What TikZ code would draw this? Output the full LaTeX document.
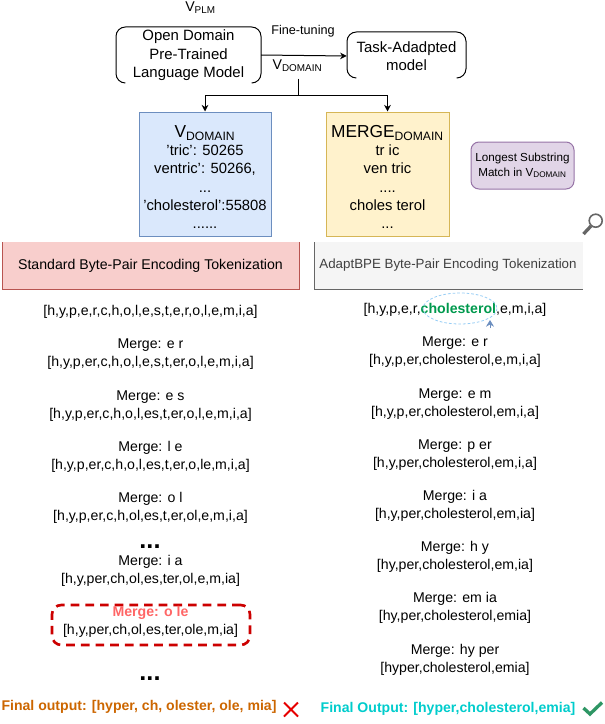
\documentclass[tikz,border=0pt]{standalone}
\usepackage{fontspec}
\setmainfont{Liberation Sans}
\usetikzlibrary{arrows,positioning}
\usetikzlibrary{arrows.meta}
\definecolor{blueFill}{RGB}{218,232,252}
\definecolor{blueLine}{RGB}{108,142,191}
\definecolor{yellowFill}{RGB}{255,242,204}
\definecolor{yellowLine}{RGB}{214,182,86}
\definecolor{purpleFill}{RGB}{225,213,231}
\definecolor{purpleLine}{RGB}{150,115,166}
\definecolor{redFill}{RGB}{248,206,204}
\definecolor{redLine}{RGB}{184,84,80}
\definecolor{grayFill}{RGB}{245,245,245}
\definecolor{grayLine}{RGB}{102,102,102}
\newcommand{\boxtitle}[1]{{\fontsize{13}{13.6}\selectfont #1}}
\tikzset{
	textline/.style={inner sep=0pt,align=center,font=\fontsize{10.6}{13.5}\selectfont},
	boxtext/.style={inner sep=0pt,align=center,font=\fontsize{11.2}{13.8}\selectfont},
	colorbox/.style={line width=0.75,inner sep=0pt,align=center,font=\fontsize{11.1}{13.6}\selectfont},
	dotsline/.style={inner sep=0pt,font=\bfseries\fontsize{19}{20}\selectfont},
	finalline/.style={inner sep=0pt,font=\bfseries\fontsize{10.55}{13}\selectfont},
	connector/.style={line width=0.75,-{Stealth[length=5,width=5]}},
}
\begin{document}
\begin{tikzpicture}[x=0.75pt,y=0.75pt,yscale=-1,xscale=1]
	\useasboundingbox (0,0) rectangle (604,724);

	%Shape: Model boxes
	\draw (188.5,55.5) node (openModel) [minimum width=108.75pt,minimum height=42pt,boxtext] {Open Domain\\Pre-Trained\\Language Model};
	\draw (406.5,56) node (taskModel) [minimum width=89.25pt,minimum height=34.5pt,boxtext] {Task-Adadpted\\model};
	\draw [rounded corners=7,line width=0.75] (124,83) -- (116,83) -- (116,27) -- (261,27) -- (261,83) -- (253,83);
	\draw [rounded corners=7,line width=0.75] (355,78) -- (347,78) -- (347,32) -- (466,32) -- (466,78) -- (458,78);
	% Text Node
	\draw (200.5,8) node (vPlm) [textline] {V\textsubscript{PLM}};
	\draw (303,31) node (fineTuning) [textline,font=\fontsize{9.5}{11}\selectfont] {Fine-tuning};
	\draw (297.5,66) node (vDomain) [textline] {V\textsubscript{DOMAIN}};

	%Shape: Vocabulary boxes
	\draw (205,174) node (vocabBox) [draw=blueLine,fill=blueFill,line width=0.75,minimum width=99pt,minimum height=93pt] {};
	\draw (387.5,174) node (mergeBox) [draw=yellowLine,fill=yellowFill,line width=0.75,minimum width=92.25pt,minimum height=93pt] {};
	\draw (205,177) node (vocabText) [colorbox] {\boxtitle{V\textsubscript{DOMAIN}}\\'tric': 50265\\ventric': 50266,\\...\\'cholesterol':55808\\......};
	\draw (387.5,177) node (mergeText) [colorbox] {\boxtitle{MERGE\textsubscript{DOMAIN}}\\tr ic\\ven tric\\....\\choles terol\\...};
	\draw (522.5,165.5) node (matchBox) [draw=purpleLine,fill=purpleFill,rounded corners=6,minimum width=77.25pt,minimum height=35.25pt,colorbox,font=\fontsize{8.75}{11}\selectfont] {Longest Substring\\Match in V\textsubscript{DOMAIN}};

	%Straight Lines
	\coordinate (branch) at (298,79);
	\coordinate (openEnd) at (261,55);
	\draw [connector] (openEnd) -- (taskModel.west);
	\draw [connector] (branch) -- (298,95) -| (vocabBox.north);
	\draw [connector] (branch) -- (298,95) -| (mergeBox.north);

	%Shape: Tokenization headers
	\fill [redFill] (2,242) rectangle (299,289);
	\draw [redLine,line width=0.75] (2,242) -- (2,289) -- (299,289) -- (299,242);
	\fill [grayFill] (314,242) rectangle (583,289);
	\draw [grayLine,line width=0.75] (314,242) -- (314,289) -- (583,289);
	\draw (150.5,266) node (stdHeader) [textline] {Standard Byte-Pair Encoding Tokenization};
	\draw (448,265) node (adaptHeader) [textline,text=black!75,font=\fontsize{10}{12}\selectfont] {AdaptBPE Byte-Pair Encoding Tokenization};

	% Text Node: standard column
	\draw (150.5,312) node (stdStart) [textline] {[h,y,p,e,r,c,h,o,l,e,s,t,e,r,o,l,e,m,i,a]};
	\draw (150.5,354) node (stdOne) [textline] {Merge: e r\\{}[h,y,p,er,c,h,o,l,e,s,t,er,o,l,e,m,i,a]};
	\draw (150.5,406) node (stdTwo) [textline] {Merge: e s\\{}[h,y,p,er,c,h,o,l,es,t,er,o,l,e,m,i,a]};
	\draw (150.5,457) node (stdThree) [textline] {Merge: l e\\{}[h,y,p,er,c,h,o,l,es,t,er,o,le,m,i,a]};
	\draw (150.5,508) node (stdFour) [textline] {Merge: o l\\{}[h,y,p,er,c,h,ol,es,t,er,ol,e,m,i,a]};
	\draw (150,547) node (stdDots) [dotsline] {...};
	\draw (150.5,571) node (stdFive) [textline] {Merge: i a\\{}[h,y,per,ch,ol,es,ter,ol,e,m,ia]};
	\draw (151,625) node (stdBox) [draw={rgb, 255:red, 204; green, 0; blue, 0 },line width=2,dash pattern={on 6.5pt off 4.5pt},rounded corners=7,minimum width=148.5pt,minimum height=30pt] {};
	\draw (150.5,622) node (stdSix) [textline] {\textcolor[RGB]{255,102,102}{\bfseries Merge: o le}\\{}[h,y,per,ch,ol,es,ter,ole,m,ia]};
	\draw (150,679) node (stdMore) [dotsline] {...};
	\draw (139,707) node (stdFinal) [finalline,text={rgb, 255:red, 204; green, 102; blue, 0 }] {Final output: [hyper, ch, olester, ole, mia]};

	% Text Node: AdaptBPE column
	\draw (455,310) node (adaptStart) [textline] {[h,y,p,e,r,\textcolor[RGB]{0,153,77}{\bfseries cholesterol},e,m,i,a]};
	\draw (455,352.5) node (adaptOne) [textline] {Merge: e r\\{}[h,y,p,er,cholesterol,e,m,i,a]};
	\draw (455,404) node (adaptTwo) [textline] {Merge: e m\\{}[h,y,p,er,cholesterol,em,i,a]};
	\draw (455,455) node (adaptThree) [textline] {Merge: p er\\{}[h,y,per,cholesterol,em,i,a]};
	\draw (455,506) node (adaptFour) [textline] {Merge: i a\\{}[h,y,per,cholesterol,em,ia]};
	\draw (455,557) node (adaptFive) [textline] {Merge: h y\\{}[hy,per,cholesterol,em,ia]};
	\draw (455,608) node (adaptSix) [textline] {Merge: em ia\\{}[hy,per,cholesterol,emia]};
	\draw (455,660) node (adaptSeven) [textline] {Merge: hy per\\{}[hyper,cholesterol,emia]};
	\draw (448,709) node (adaptFinal) [finalline,text={rgb, 255:red, 0; green, 204; blue, 204 }] {Final Output: [hyper,cholesterol,emia]};

	%Shape: Ellipse
	\coordinate (tipEllipse) at (490,320);
	\coordinate (tailEllipse) at (490,328);
	\draw [color={rgb, 255:red, 150; green, 205; blue, 245 },dash pattern={on 2pt off 1.5pt},line width=0.6] (460,308.5) ellipse (37 and 15.5);
	\draw [color=blueLine,line width=0.6,-{Stealth[length=5,width=6]}] (tailEllipse) -- (tipEllipse);

	%Shape: Cross and check
	\draw [color={rgb, 255:red, 230; green, 0; blue, 0 },line width=1.5] (284,702.5) -- (298,716.5) (298,702.5) -- (284,716.5);
	\draw [color={rgb, 255:red, 46; green, 150; blue, 100 },line width=2.5] (583.5,708) -- (590,714) -- (602,702.5);

	%Shape: Magnifier
	\draw [color=grayLine,line width=1.2] (595.7,220.7) circle (6.5);
	\draw [color=grayLine,line width=2.5] (591,226) -- (583.5,234);
\end{tikzpicture}
\end{document}
